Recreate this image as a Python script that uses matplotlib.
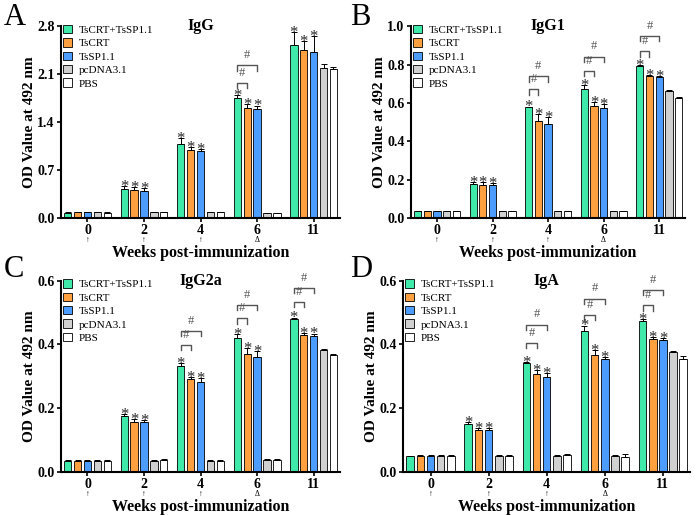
import numpy as np
import matplotlib
matplotlib.use("Agg")
import matplotlib.pyplot as plt
from matplotlib.patches import Patch
from matplotlib.transforms import blended_transform_factory

plt.rcParams['font.family'] = ['Liberation Serif', 'DejaVu Serif']

weeks = ["0", "2", "4", "6", "11"]
marks = ["↑", "↑", "↑", "Δ", ""]
groups = ["TsCRT+TsSP1.1", "TsCRT", "TsSP1.1", "pcDNA3.1", "PBS"]
colors = ["#3fe9aa", "#ffa040", "#4d9cff", "#d0d0d0", "#ffffff"]

# values per week (rows) and group (columns)
igg = [[0.075, 0.08, 0.08, 0.08, 0.075],
       [0.42, 0.41, 0.39, 0.08, 0.08],
       [1.08, 0.99, 0.97, 0.08, 0.08],
       [1.75, 1.60, 1.59, 0.07, 0.07],
       [2.53, 2.46, 2.43, 2.19, 2.17]]
igg_err = [[0.005, 0.005, 0.005, 0.005, 0.005],
           [0.04, 0.04, 0.04, 0.01, 0.005],
           [0.08, 0.04, 0.04, 0.01, 0.005],
           [0.05, 0.06, 0.05, 0.005, 0.005],
           [0.18, 0.12, 0.23, 0.06, 0.04]]

igg1 = [[0.035, 0.035, 0.035, 0.035, 0.035],
        [0.176, 0.173, 0.170, 0.035, 0.035],
        [0.576, 0.505, 0.488, 0.035, 0.035],
        [0.670, 0.584, 0.571, 0.035, 0.035],
        [0.790, 0.742, 0.735, 0.662, 0.626]]
igg1_err = [[0.002, 0.002, 0.002, 0.002, 0.002],
            [0.010, 0.015, 0.010, 0.002, 0.002],
            [0.005, 0.038, 0.038, 0.002, 0.002],
            [0.022, 0.020, 0.025, 0.002, 0.002],
            [0.008, 0.004, 0.005, 0.004, 0.003]]

igg2a = [[0.035, 0.034, 0.034, 0.035, 0.035],
         [0.176, 0.157, 0.157, 0.034, 0.036],
         [0.332, 0.292, 0.283, 0.034, 0.034],
         [0.421, 0.369, 0.360, 0.038, 0.037],
         [0.480, 0.430, 0.427, 0.381, 0.367]]
igg2a_err = [[0.002, 0.002, 0.002, 0.002, 0.002],
             [0.006, 0.008, 0.006, 0.003, 0.003],
             [0.008, 0.006, 0.012, 0.003, 0.003],
             [0.012, 0.020, 0.020, 0.002, 0.002],
             [0.004, 0.005, 0.007, 0.006, 0.003]]

iga = [[0.048, 0.050, 0.049, 0.049, 0.050],
       [0.150, 0.132, 0.132, 0.048, 0.049],
       [0.341, 0.306, 0.297, 0.050, 0.052],
       [0.442, 0.366, 0.355, 0.049, 0.047],
       [0.473, 0.418, 0.415, 0.376, 0.355]]
iga_err = [[0.002, 0.002, 0.002, 0.002, 0.002],
           [0.005, 0.004, 0.005, 0.005, 0.003],
           [0.004, 0.014, 0.012, 0.003, 0.003],
           [0.017, 0.016, 0.006, 0.005, 0.010],
           [0.006, 0.005, 0.006, 0.004, 0.010]]

# significance brackets: (week index, from bar, to bar, height)
igg_brackets = [(3, 0, 1, 1.97), (3, 0, 2, 2.23)]
igg1_brackets = [(2, 0, 1, 0.670), (2, 0, 2, 0.739),
                 (3, 0, 1, 0.767), (3, 0, 2, 0.842),
                 (4, 0, 1, 0.870), (4, 0, 2, 0.950)]
igg2a_brackets = [(2, 0, 1, 0.398), (2, 0, 2, 0.442),
                  (3, 0, 1, 0.482), (3, 0, 2, 0.524),
                  (4, 0, 1, 0.534), (4, 0, 2, 0.578)]
iga_brackets = [(2, 0, 1, 0.405), (2, 0, 2, 0.462),
                (3, 0, 1, 0.492), (3, 0, 2, 0.544),
                (4, 0, 1, 0.523), (4, 0, 2, 0.571)]

step = 0.175
width = 0.13


def draw_panel(ax, vals, errs, brackets, title, ymax, yticks):
    vals = np.array(vals)
    errs = np.array(errs)
    x = np.arange(len(weeks))
    for j in range(len(groups)):
        pos = x + (j - 2) * step
        ax.bar(pos, vals[:, j], width, color=colors[j], edgecolor="black",
               linewidth=0.6, label=groups[j], zorder=2)
        ax.errorbar(pos, vals[:, j], yerr=[np.zeros(len(x)), errs[:, j]],
                    fmt="none", ecolor="black", elinewidth=0.7, capsize=2,
                    capthick=0.7, zorder=3)
        if j < 3:
            for i in range(1, len(weeks)):
                ax.annotate("*", (pos[i], vals[i, j] + errs[i, j]),
                            xytext=(0, -3.5), textcoords="offset points",
                            ha="center", va="baseline", fontsize=12,
                            color="#2a2a2a")
    leg_h = ymax * 0.028
    for wi, b0, b1, h in brackets:
        x0 = x[wi] + (b0 - 2) * step
        x1 = x[wi] + (b1 - 2) * step
        ax.plot([x0, x0, x1, x1], [h - leg_h, h, h, h - leg_h],
                color="#555555", lw=1.0, clip_on=False)
        ax.annotate("#", ((x0 + x1) / 2, h), xytext=(0, 3),
                    textcoords="offset points", ha="center", va="bottom",
                    fontsize=9, color="#555555")
    ax.set_xlim(-0.47, 4.47)
    ax.set_ylim(0, ymax)
    ax.set_yticks(yticks)
    ax.set_yticklabels([f"{t:.1f}" for t in yticks], fontweight="bold",
                       fontsize=10)
    ax.set_xticks(x)
    ax.set_xticklabels(weeks, fontweight="bold", fontsize=10)
    ax.spines["top"].set_visible(False)
    ax.spines["right"].set_visible(False)
    ax.spines["left"].set_linewidth(1.5)
    ax.spines["bottom"].set_linewidth(1.5)
    ax.tick_params(width=1.2, length=3, pad=1.5)
    trans = blended_transform_factory(ax.transData, ax.transAxes)
    for i, m in enumerate(marks):
        if m:
            ax.text(x[i], -0.118, m, transform=trans, ha="center",
                    va="center", fontsize=5.5)
    ax.set_xlabel("Weeks post-immunization", fontweight="bold",
                  fontsize=11.5, labelpad=6)
    ax.set_ylabel("OD Value at 492 nm", fontweight="bold", fontsize=11,
                  labelpad=1)
    ax.text(0.5, 1.0, title, transform=ax.transAxes, ha="center", va="center",
            fontweight="bold", fontsize=11.5)
    handles = [Patch(facecolor=c, edgecolor="black", linewidth=0.6)
               for c in colors]
    ax.legend(handles, groups, loc="upper left", bbox_to_anchor=(0.0, 1.02),
              frameon=False, fontsize=8, handlelength=0.8, handleheight=0.8,
              handletextpad=0.6, labelspacing=0.3, borderaxespad=0.1,
              borderpad=0.1)


fig = plt.figure(figsize=(7, 5.15), dpi=100)
axA = fig.add_axes([0.087, 0.577, 0.399, 0.372])
axB = fig.add_axes([0.587, 0.577, 0.392, 0.372])
axC = fig.add_axes([0.087, 0.084, 0.399, 0.371])
axD = fig.add_axes([0.576, 0.084, 0.41, 0.371])

draw_panel(axA, igg, igg_err, igg_brackets, "IgG", 2.8,
           [0.0, 0.7, 1.4, 2.1, 2.8])
draw_panel(axB, igg1, igg1_err, igg1_brackets, "IgG1", 1.0,
           [0.0, 0.2, 0.4, 0.6, 0.8, 1.0])
draw_panel(axC, igg2a, igg2a_err, igg2a_brackets, "IgG2a", 0.6,
           [0.0, 0.2, 0.4, 0.6])
draw_panel(axD, iga, iga_err, iga_brackets, "IgA", 0.6,
           [0.0, 0.2, 0.4, 0.6])

for lab, xx, yy in [("A", 0.005, 0.995), ("B", 0.5, 0.995),
                    ("C", 0.005, 0.505), ("D", 0.5, 0.505)]:
    fig.text(xx, yy, lab, fontsize=22, ha="left", va="top")

fig.savefig("out.png", dpi=100)
